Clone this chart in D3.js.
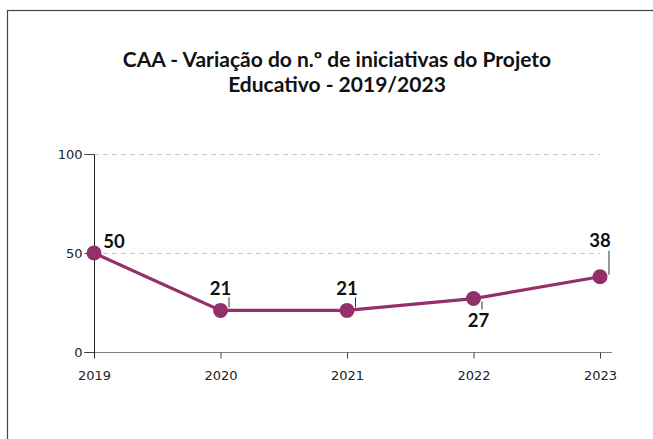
<!DOCTYPE html>
<html><head><meta charset="utf-8">
<script src="https://cdn.jsdelivr.net/npm/d3@7"></script>
<style>body{margin:0;background:#fff}svg{display:block}</style>
</head><body><svg id="c" width="653" height="439"></svg>
<script>
const years = ["2019","2020","2021","2022","2023"];
const values = [50,21,21,27,38];
const yTicks = [0,50,100];
const titleLines = ["CAA - Variação do n.º de iniciativas do Projeto","Educativo - 2019/2023"];
const labelPos = ["right","above","above","below","above"];

const svg = d3.select("#c");
const font = "Lato, 'Liberation Sans', sans-serif";
const tickFont = "'DejaVu Sans', sans-serif";
svg.append("rect").attr("x",7.5).attr("y",10.5).attr("width",700).attr("height",500)
  .attr("fill","#fff").attr("stroke","#444").attr("stroke-width",1.2);

const x = d3.scalePoint().domain(years).range([94,600]);
const y = d3.scaleLinear().domain([0,100]).range([352,154]);

svg.append("g").selectAll("line").data(yTicks.filter(d=>d>0)).join("line")
  .attr("x1",94).attr("x2",600).attr("y1",d=>y(d)+0.5).attr("y2",d=>y(d)+0.5)
  .attr("stroke","#c8c8c8").attr("stroke-dasharray","5,4").attr("stroke-width",1);

const xa = svg.append("g").attr("transform","translate(0,352.5)")
  .call(d3.axisBottom(x).tickSizeOuter(0).tickSize(6).tickPadding(12));
xa.select(".domain").attr("d","M84,0H612").attr("stroke","#808080");
xa.selectAll(".tick line").attr("stroke","#404040");
xa.selectAll("text").style("font-family",tickFont).style("font-size","13px").attr("fill","#222");

const ya = svg.append("g").attr("transform","translate(94.5,0)")
  .call(d3.axisLeft(y).tickValues(yTicks).tickSize(10).tickSizeOuter(0).tickPadding(2));
ya.select(".domain").attr("d","M0,154.5V358").attr("stroke","#222");
ya.selectAll(".tick line").attr("stroke","#404040");
ya.selectAll("text").style("font-family",tickFont).style("font-size","13px").attr("fill","#222");

svg.append("path").datum(values)
  .attr("d",d3.line().x((d,i)=>x(years[i])).y(d=>y(d)))
  .attr("fill","none").attr("stroke","#93306a").attr("stroke-width",3.2);
svg.append("g").selectAll("circle").data(values).join("circle")
  .attr("cx",(d,i)=>x(years[i])).attr("cy",d=>y(d)).attr("r",7.5).attr("fill","#93306a");

const lg = svg.append("g");
values.forEach((v,i)=>{
  const px = x(years[i]), py = y(v);
  let lx, ly, leader=null;
  if(labelPos[i]==="right"){ lx=px+20; ly=py-5; }
  else if(labelPos[i]==="above"){
    if(i===4){ lx=px; ly=py-30; leader=[px+8.5,py-26,px+8.5,py-2]; }
    else { lx=px; ly=py-15; leader=[px+8,py-13,px+8,py-3]; }
  } else { lx=px+5; ly=py+28; leader=[px+8,py+3,px+8,py+11]; }
  if(leader) lg.append("line").attr("x1",leader[0]+0.5).attr("y1",leader[1]).attr("x2",leader[2]+0.5).attr("y2",leader[3])
    .attr("stroke","#333").attr("stroke-width",1);
  lg.append("text").attr("x",lx).attr("y",ly).attr("text-anchor","middle")
    .attr("font-family",font).attr("font-weight","bold").attr("font-size",18.5).attr("fill","#111").text(v);
});

svg.append("g").selectAll("text").data(titleLines).join("text")
  .attr("x",337).attr("y",(d,i)=>67+i*25).attr("text-anchor","middle")
  .attr("font-family",font).attr("font-weight","bold").attr("font-size",21).attr("fill","#111").text(d=>d);
</script></body></html>
